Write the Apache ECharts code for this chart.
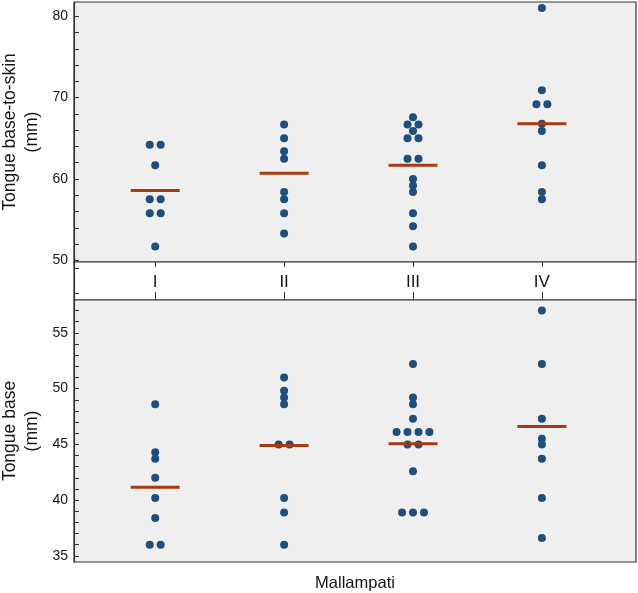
<!DOCTYPE html>
<html>
<head>
<meta charset="utf-8">
<script src="https://cdn.jsdelivr.net/npm/echarts@6/dist/echarts.min.js"></script>
<style>
html,body{margin:0;padding:0;background:#fff;}
#chart{width:638px;height:593px;}
</style>
</head>
<body>
<div id="chart"></div>
<script>
// ---- data ----
var categories = ['I', 'II', 'III', 'IV'];

// Tongue base-to-skin (mm), one array per Mallampati class
var skinI   = [64.2, 64.2, 61.7, 57.5, 57.5, 55.8, 55.8, 51.7];
var skinII  = [66.7, 65.0, 63.4, 62.5, 58.4, 57.5, 55.8, 53.3];
var skinIII = [67.6, 66.7, 66.7, 65.9, 65.0, 65.0, 62.5, 62.5, 60.0, 59.2, 58.4, 55.8, 54.2, 51.7];
var skinIV  = [81.0, 70.9, 69.2, 69.2, 66.8, 65.9, 61.7, 58.4, 57.5];
var skinMeans = [58.6, 60.7, 61.7, 66.8];

// Tongue base (mm)
var baseI   = [48.6, 44.3, 43.7, 42.0, 40.2, 38.4, 36.0, 36.0];
var baseII  = [51.0, 49.8, 49.2, 48.6, 45.0, 45.0, 40.2, 38.9, 36.0];
var baseIII = [52.2, 49.2, 48.6, 47.3, 46.1, 46.1, 46.1, 46.1, 45.0, 45.0, 42.6, 38.9, 38.9, 38.9];
var baseIV  = [57.0, 52.2, 47.3, 45.5, 45.0, 43.7, 40.2, 36.6];
var baseMeans = [41.15, 44.9, 45.05, 46.6];

// tick labels
var skinTicks = [50, 60, 70, 80];
var baseTicks = [35, 40, 45, 50, 55];

// ---- helpers ----
var catPos = categories.map(function (c, i) { return i + 1; });
var SWARM_STEP = 0.085;
function swarm(groups) {
  var out = [];
  groups.forEach(function (vals, gi) {
    var counts = {};
    vals.forEach(function (v) { counts[v] = (counts[v] || 0) + 1; });
    var seen = {};
    vals.forEach(function (v) {
      var k = counts[v];
      var i = seen[v] || 0;
      seen[v] = i + 1;
      out.push([catPos[gi] + (i - (k - 1) / 2) * SWARM_STEP, v]);
    });
  });
  return out;
}
function range(a, b, s) { var r = []; for (var v = a; v <= b + 1e-9; v += s) r.push(+v.toFixed(4)); return r; }

var skinData = swarm([skinI, skinII, skinIII, skinIV]);
var baseData = swarm([baseI, baseII, baseIII, baseIV]);
var skinMeanData = skinMeans.map(function (m, i) { return [catPos[i], m]; });
var baseMeanData = baseMeans.map(function (m, i) { return [catPos[i], m]; });

var HALF = 0.19;
function meanLine(params, api) {
  var c = api.value(0), m = api.value(1);
  var p1 = api.coord([c - HALF, m]);
  var p2 = api.coord([c + HALF, m]);
  return {
    type: 'line',
    shape: { x1: p1[0], y1: p1[1], x2: p2[0], y2: p2[1] },
    style: { stroke: '#a83a12', lineWidth: 3 }
  };
}

var FONT = 'Liberation Sans, Arial, sans-serif';
var FRAME = '#333';
var TEXT = '#151515';
var XMIN = 0.37, XMAX = 4.73;

var gridBase = { left: 74, right: 2, show: true, borderColor: FRAME, borderWidth: 1.2, containLabel: false, outerBoundsMode: 'none' };

var chart = echarts.init(document.getElementById('chart'), null, { renderer: 'canvas' });
chart.setOption({
  animation: false,
  backgroundColor: '#ffffff',
  grid: [
    Object.assign({}, gridBase, { top: 2, height: 260, backgroundColor: '#efefef' }),
    Object.assign({}, gridBase, { top: 262, height: 38, backgroundColor: '#ffffff' }),
    Object.assign({}, gridBase, { top: 300, height: 262, backgroundColor: '#efefef' })
  ],
  xAxis: [
    { gridIndex: 0, type: 'value', min: XMIN, max: XMAX, position: 'bottom',
      axisLine: { show: false }, splitLine: { show: false },
      axisTick: { show: true, inside: false, length: 5, customValues: catPos, lineStyle: { color: FRAME } },
      axisLabel: { show: false } },
    { gridIndex: 1, type: 'value', min: XMIN, max: XMAX, position: 'top',
      axisLine: { show: false }, splitLine: { show: false }, axisTick: { show: false },
      axisLabel: { show: true, inside: true, margin: 12, customValues: catPos,
        formatter: function (v) { return categories[Math.round(v) - 1] || ''; },
        fontFamily: FONT, fontSize: 17, color: TEXT } },
    { gridIndex: 2, type: 'value', min: XMIN, max: XMAX, position: 'top',
      axisLine: { show: false }, splitLine: { show: false },
      axisTick: { show: true, inside: false, length: 8, customValues: catPos, lineStyle: { color: FRAME } },
      axisLabel: { show: false } },
    { gridIndex: 2, type: 'value', min: XMIN, max: XMAX, position: 'bottom',
      axisLine: { show: false }, splitLine: { show: false }, axisTick: { show: false }, axisLabel: { show: false },
      name: 'Mallampati', nameLocation: 'middle', nameGap: 13, nameMoveOverlap: false,
      nameTextStyle: { fontFamily: FONT, fontSize: 16.5, color: TEXT } }
  ],
  yAxis: [
    { gridIndex: 0, type: 'value', min: 49.8, max: 81.75,
      axisLine: { show: true, lineStyle: { color: FRAME, width: 1.2 } }, splitLine: { show: false },
      axisTick: { show: true, inside: true, length: 5, customValues: range(50, 80, 2), lineStyle: { color: FRAME } },
      axisLabel: { show: true, margin: 6, customValues: skinTicks, fontFamily: FONT, fontSize: 14, color: TEXT },
      name: 'Tongue base-to-skin\n(mm)', nameLocation: 'middle', nameGap: 31, nameMoveOverlap: false,
      nameTextStyle: { fontFamily: FONT, fontSize: 17.5, color: TEXT, lineHeight: 22 } },
    { gridIndex: 1, type: 'value', min: 0, max: 38, inverse: true,
      axisLine: { show: true, lineStyle: { color: FRAME, width: 1.2 } }, splitLine: { show: false },
      axisTick: { show: true, inside: true, length: 5, customValues: [6, 31], lineStyle: { color: FRAME } },
      axisLabel: { show: false } },
    { gridIndex: 2, type: 'value', min: 34.45, max: 57.95,
      axisLine: { show: true, lineStyle: { color: FRAME, width: 1.2 } }, splitLine: { show: false },
      axisTick: { show: true, inside: true, length: 5, customValues: range(35, 57, 1), lineStyle: { color: FRAME } },
      axisLabel: { show: true, margin: 6, customValues: baseTicks, fontFamily: FONT, fontSize: 14, color: TEXT },
      name: 'Tongue base\n(mm)', nameLocation: 'middle', nameGap: 31, nameMoveOverlap: false,
      nameTextStyle: { fontFamily: FONT, fontSize: 17.5, color: TEXT, lineHeight: 22 } }
  ],
  series: [
    { type: 'scatter', xAxisIndex: 0, yAxisIndex: 0, data: skinData, symbolSize: 8,
      itemStyle: { color: '#1f4e7a', opacity: 1 }, z: 2 },
    { type: 'custom', xAxisIndex: 0, yAxisIndex: 0, data: skinMeanData, renderItem: meanLine, z: 3 },
    { type: 'scatter', xAxisIndex: 2, yAxisIndex: 2, data: baseData, symbolSize: 8,
      itemStyle: { color: '#1f4e7a', opacity: 1 }, z: 2 },
    { type: 'custom', xAxisIndex: 2, yAxisIndex: 2, data: baseMeanData, renderItem: meanLine, z: 3 }
  ]
});
</script>
</body>
</html>
